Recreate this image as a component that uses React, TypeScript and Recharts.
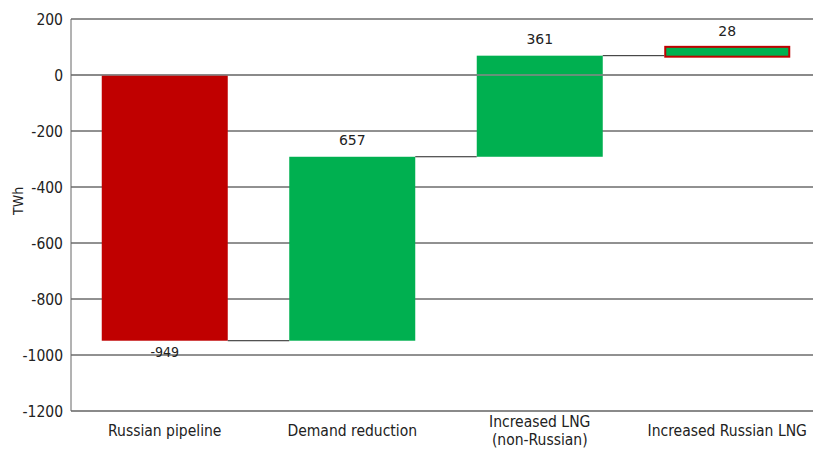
import { BarChart, Bar, XAxis, YAxis, CartesianGrid, ReferenceLine } from "recharts"

// waterfall: change in supply by source (TWh)
const categories = ["Russian pipeline", "Demand reduction", "Increased LNG\n(non-Russian)", "Increased Russian LNG"]
const changes = [-949, 657, 361, 28]
const barColors = ["#c00000", "#00b050", "#00b050", "#00b050"]
const outlineColors = ["none", "none", "none", "#c00000"]
const yTicks = [200, 0, -200, -400, -600, -800, -1000, -1200]

const condensed = "'DejaVu Sans Condensed', 'Liberation Sans Narrow', sans-serif"
const gapPct = 0.164

let running = 0
const data = categories.map((name, i) => {
  const start = running
  running += changes[i]
  return {
    name,
    change: changes[i],
    start,
    end: running,
    range: [Math.min(start, running), Math.max(start, running)],
    color: barColors[i],
    outline: outlineColors[i],
    last: i === categories.length - 1,
  }
})

function WaterfallBar(props: any) {
  const { x, width, payload } = props
  let { y, height } = props
  if (height < 0) {
    y = y + height
    height = -height
  }
  const up = payload.change >= 0
  const endY = up ? y : y + height
  const gap = (width * 2 * gapPct) / (1 - 2 * gapPct)
  const sw = payload.outline === "none" ? 0 : 2
  return (
    <g>
      <rect
        x={x + sw / 2}
        y={y - sw / 2}
        width={width - sw}
        height={height + sw}
        fill={payload.color}
        stroke={payload.outline}
        strokeWidth={sw}
      />
      {!payload.last && (
        <line x1={x + width} x2={x + width + gap} y1={endY} y2={endY} stroke="#222" strokeWidth={1} />
      )}
      <text
        x={x + width / 2}
        y={up ? y - 12 : y + height + 16}
        textAnchor="middle"
        fontSize={14}
        fontFamily={up ? "'DejaVu Sans', sans-serif" : condensed}
        fill="#222"
      >
        {payload.change}
      </text>
    </g>
  )
}

function CategoryTick(props: any) {
  const { x, y, payload } = props
  const lines = String(payload.value).split("\n")
  const lh = 18
  const top = y + 17 - ((lines.length - 1) * lh) / 2
  return (
    <text x={x} y={top} textAnchor="middle" fontSize={15.5} fontFamily={condensed} fill="#222">
      {lines.map((l, i) => (
        <tspan key={i} x={x} y={top + i * lh}>
          {l}
        </tspan>
      ))}
    </text>
  )
}

export default function App() {
  return (
    <div style={{ position: "fixed", left: 0, top: 0, width: 813, height: 452, overflow: "hidden", background: "#fff" }}>
      <BarChart
        width={830}
        height={452}
        data={data}
        barCategoryGap={`${gapPct * 100}%`}
        margin={{ top: 19, right: 9, left: 0, bottom: 0 }}
      >
        <CartesianGrid vertical={false} stroke="#222" strokeOpacity={1} />
        <XAxis
          dataKey="name"
          height={41}
          axisLine={{ stroke: "#888", strokeWidth: 1.5 }}
          tickLine={false}
          interval={0}
          tick={<CategoryTick />}
        />
        <YAxis
          width={71}
          domain={[-1200, 200]}
          ticks={yTicks}
          interval={0}
          axisLine={{ stroke: "#666" }}
          tickLine={false}
          tick={{ fontSize: 15.5, fill: "#222", fontFamily: condensed }}
          label={{ value: "TWh", angle: -90, position: "insideLeft", offset: 18, fontSize: 14, fill: "#222", fontFamily: condensed }}
        />
        <ReferenceLine y={0} stroke="#888" strokeWidth={1.5} />
        <Bar dataKey="range" isAnimationActive={false} shape={<WaterfallBar />} />
      </BarChart>
    </div>
  )
}
